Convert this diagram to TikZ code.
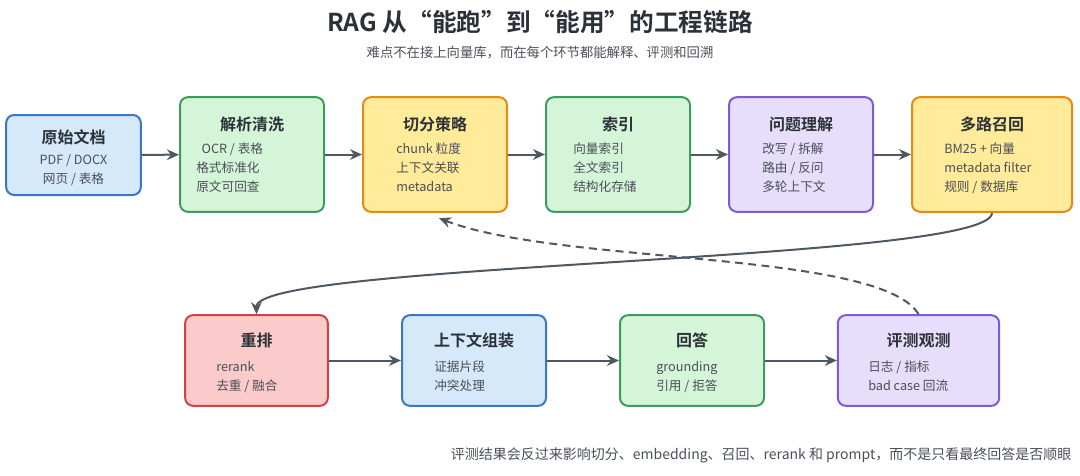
\documentclass[tikz,border=0pt]{standalone}
\usepackage{fontspec}
\setmainfont{Noto Sans CJK SC}[BoldFont={Noto Sans CJK SC Bold}]
\usetikzlibrary{arrows.meta}
\definecolor{txt}{HTML}{2B3138}
\definecolor{sub}{HTML}{4A4F57}
\definecolor{arr}{HTML}{4D5862}
\definecolor{bluef}{HTML}{D6E9FB}\definecolor{blued}{HTML}{3A78C4}
\definecolor{greenf}{HTML}{D5F5D9}\definecolor{greend}{HTML}{3F9A5E}
\definecolor{yelf}{HTML}{FFEB99}\definecolor{yeld}{HTML}{E58A17}
\definecolor{purf}{HTML}{E6DEFB}\definecolor{purd}{HTML}{7F5AD6}
\definecolor{redf}{HTML}{FBCACA}\definecolor{redd}{HTML}{D14343}
\tikzset{
  stage/.style={draw=#1d, fill=#1f, line width=1.5pt, rounded corners=6pt},
  head/.style={font=\bfseries\fontsize{12}{14}\selectfont, text=txt},
  body/.style={font=\fontsize{9.5}{14.2}\selectfont, text=sub, align=left, anchor=north west, inner sep=0pt},
  flow/.style={-{Stealth[length=9pt,width=8pt]}, draw=arr, line width=1.5pt},
}
\begin{document}
\begin{tikzpicture}[x=0.75pt, y=-0.75pt]
\useasboundingbox (0,0) rectangle (1080,475);
% title
\node[font=\bfseries\fontsize{18.5}{20}\selectfont, text=txt] (title) at (540,22) {RAG 从“能跑”到“能用”的工程链路};
\node[font=\fontsize{10}{12}\selectfont, text=sub] (subtitle) at (540,53) {难点不在接上向量库，而在每个环节都能解释、评测和回溯};
% top row
\node[stage=blue, minimum width=101pt, minimum height=60pt] (src) at (73.5,155) {};
\node[stage=green, minimum width=108pt, minimum height=86pt] (parse) at (252,154.5) {};
\node[stage=yel, minimum width=108pt, minimum height=86pt] (chunk) at (435,154.5) {};
\node[stage=green, minimum width=108pt, minimum height=86pt] (index) at (618,154.5) {};
\node[stage=pur, minimum width=108pt, minimum height=86pt] (query) at (801,154.5) {};
\node[stage=yel, minimum width=120pt, minimum height=86pt] (recall) at (992,154.5) {};
% bottom row
\node[stage=red, minimum width=107pt, minimum height=68pt] (rerank) at (256.5,360.5) {};
\node[stage=blue, minimum width=108pt, minimum height=68pt] (assemble) at (474,360.5) {};
\node[stage=green, minimum width=108pt, minimum height=68pt] (answer) at (692,360.5) {};
\node[stage=pur, minimum width=121pt, minimum height=68pt] (eval) at (918.5,360.5) {};
% headings
\node[head] (srcH) at (73.5,137) {原始文档};
\node[head] (parseH) at (252,124) {解析清洗};
\node[head] (chunkH) at (435,124) {切分策略};
\node[head] (indexH) at (618,124) {索引};
\node[head] (queryH) at (801,124) {问题理解};
\node[head] (recallH) at (992,124) {多路召回};
\node[head] (rerankH) at (256.5,340) {重排};
\node[head] (assembleH) at (474,340) {上下文组装};
\node[head] (answerH) at (692,340) {回答};
\node[head] (evalH) at (918.5,340) {评测观测};
% bodies
\node[body, align=center, anchor=north] (srcB) at (73.5,154) {PDF / DOCX\\ 网页 / 表格};
\node[body] (parseB) at (196,143) {\hspace{4pt}OCR / 表格\\ 格式标准化\\ 原文可回查};
\node[body] (chunkB) at (396,143) {chunk 粒度\\ 上下文关联\\ metadata};
\node[body] (indexB) at (573,143) {向量索引\\ 全文索引\\ 结构化存储};
\node[body] (queryB) at (762,143) {改写 / 拆解\\ 路由 / 反问\\ 多轮上下文};
\node[body] (recallB) at (944,143) {BM25 + 向量\\ metadata filter\\ 规则 / 数据库};
\node[body] (rerankB) at (216,361) {rerank\\ 去重 / 融合};
\node[body] (assembleB) at (434,361) {证据片段\\ 冲突处理};
\node[body] (answerB) at (656,361) {grounding\\ 引用 / 拒答};
\node[body] (evalB) at (868,361) {日志 / 指标\\ bad case 回流};
% connectors
\draw[flow] (src) -- (parse);
\draw[flow] (parse) -- (chunk);
\draw[flow] (chunk) -- (index);
\draw[flow] (index) -- (query);
\draw[flow] (query) -- (recall);
\draw[flow] (recall.south) .. controls (992,262) and (256,262) .. (rerank.north);
\draw[flow] (rerank) -- (assemble);
\draw[flow] (assemble) -- (answer);
\draw[flow] (answer) -- (eval);
\draw[flow, dash pattern=on 6pt off 4pt] (eval.north) .. controls (880,250) and (560,265) .. ([xshift=3pt,yshift=-4pt]chunk.south);
% footer
\node[font=\fontsize{10.5}{12}\selectfont, text=sub, anchor=east] (note) at (1076,455) {评测结果会反过来影响切分、embedding、召回、rerank 和 prompt，而不是只看最终回答是否顺眼};
\end{tikzpicture}
\end{document}
